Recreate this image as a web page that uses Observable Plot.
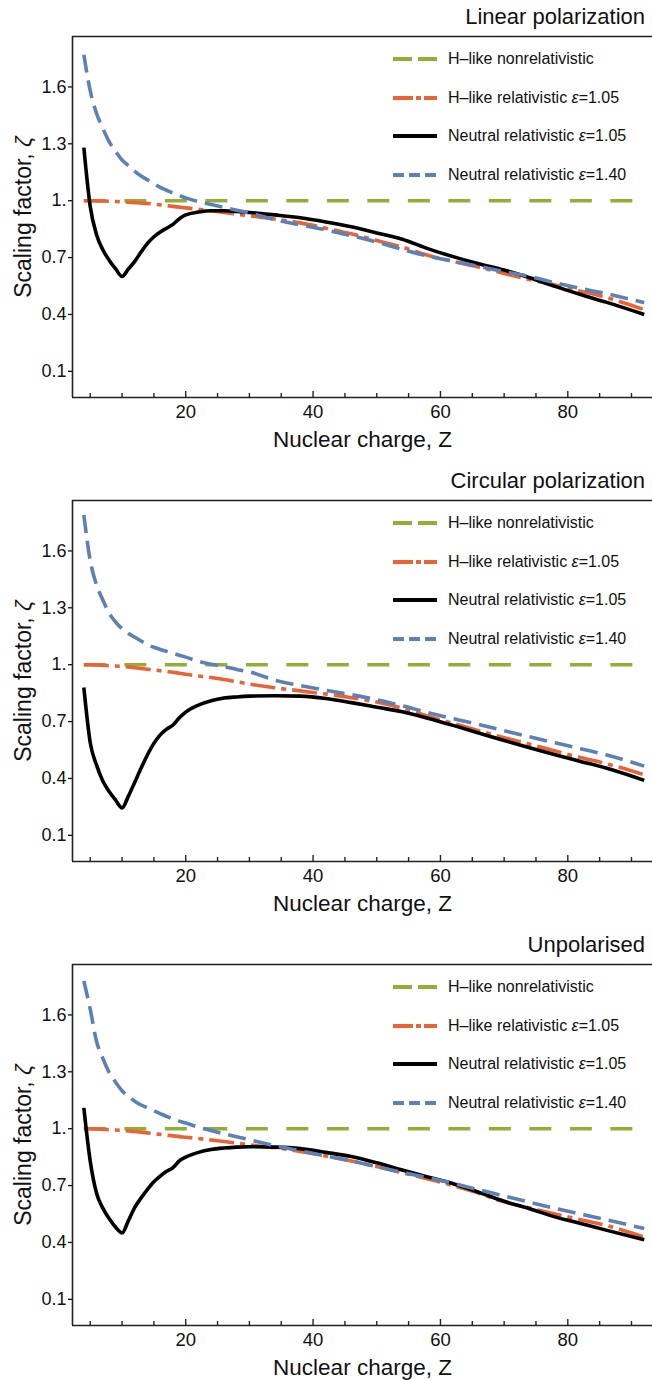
<!DOCTYPE html>
<html><head><meta charset="utf-8">
<script src="https://cdn.jsdelivr.net/npm/d3@7"></script>
<script src="https://cdn.jsdelivr.net/npm/@observablehq/plot@0.6"></script>
<style>
body{margin:0;background:#fff;font-family:"Liberation Sans",Arial,sans-serif;color:#111;overflow:hidden;}
.panel{position:relative;width:652px;height:464px;}
.title{height:34px;line-height:34px;font-size:22px;text-align:right;padding-right:7px;}
.panel svg.plot{display:block;}
.legend{position:absolute;left:393px;top:0;width:259px;height:200px;}
.row{position:absolute;left:0;height:20px;display:flex;align-items:center;white-space:nowrap;font-size:16px;}
.row svg{margin-right:11px;display:block;}
</style></head><body><div id="chart"></div>
<script>
const zGrid = [4,5,6,7,8,9,10,11,12,13,14,15,16,17,18,19,20,22,24,26,28,30,34,38,42,46,50,54,58,62,66,70,74,78,82,86,92];
const hNonrelZ = [4,92];
const hNonrel = [1,1];
const linOrange = [1.0,1.0,0.999,0.998,0.997,0.996,0.994,0.992,0.99,0.988,0.985,0.982,0.978,0.974,0.97,0.966,0.962,0.955,0.947,0.938,0.929,0.92,0.903,0.883,0.855,0.825,0.79,0.755,0.712,0.68,0.65,0.616,0.584,0.555,0.523,0.49,0.425];
const linBlack = [1.28,0.97,0.82,0.74,0.685,0.64,0.60,0.64,0.68,0.73,0.775,0.81,0.835,0.855,0.875,0.905,0.925,0.94,0.947,0.947,0.943,0.938,0.925,0.91,0.888,0.862,0.83,0.797,0.747,0.705,0.668,0.634,0.594,0.548,0.505,0.465,0.40];
const linBlue = [1.77,1.58,1.46,1.38,1.31,1.26,1.215,1.185,1.155,1.13,1.11,1.09,1.07,1.055,1.04,1.027,1.015,0.995,0.98,0.965,0.95,0.935,0.9,0.872,0.846,0.815,0.782,0.743,0.708,0.68,0.654,0.626,0.6,0.567,0.537,0.51,0.462];
const circOrange = [1.0,1.0,0.998,0.997,0.995,0.993,0.99,0.988,0.984,0.98,0.976,0.972,0.968,0.964,0.96,0.955,0.95,0.94,0.932,0.922,0.91,0.898,0.878,0.862,0.845,0.826,0.803,0.77,0.728,0.69,0.652,0.615,0.58,0.545,0.51,0.478,0.42];
const circBlack = [0.88,0.59,0.47,0.385,0.33,0.285,0.245,0.307,0.38,0.455,0.525,0.585,0.63,0.66,0.682,0.72,0.75,0.787,0.81,0.824,0.83,0.834,0.836,0.834,0.822,0.80,0.776,0.752,0.718,0.68,0.64,0.60,0.562,0.525,0.49,0.455,0.39];
const circBlue = [1.79,1.55,1.42,1.34,1.27,1.225,1.19,1.165,1.145,1.125,1.105,1.092,1.08,1.07,1.06,1.05,1.04,1.018,1.002,0.99,0.975,0.962,0.918,0.89,0.865,0.842,0.815,0.783,0.748,0.715,0.685,0.652,0.62,0.588,0.557,0.525,0.465];
const unpOrange = [1.0,1.0,0.998,0.997,0.995,0.993,0.99,0.988,0.985,0.982,0.978,0.974,0.97,0.966,0.962,0.958,0.955,0.948,0.94,0.932,0.924,0.915,0.9,0.88,0.856,0.83,0.80,0.768,0.735,0.70,0.66,0.614,0.582,0.55,0.52,0.49,0.428];
const unpBlack = [1.11,0.83,0.66,0.58,0.525,0.48,0.45,0.515,0.585,0.635,0.68,0.72,0.75,0.775,0.795,0.83,0.85,0.875,0.89,0.898,0.903,0.905,0.903,0.895,0.875,0.853,0.82,0.782,0.745,0.71,0.665,0.617,0.578,0.535,0.50,0.465,0.414];
const unpBlue = [1.78,1.63,1.46,1.37,1.295,1.245,1.2,1.17,1.145,1.125,1.11,1.095,1.08,1.065,1.052,1.04,1.03,1.008,0.99,0.973,0.958,0.942,0.91,0.883,0.856,0.83,0.80,0.77,0.742,0.712,0.678,0.645,0.612,0.58,0.55,0.52,0.473];

const panelTitles = ["Linear polarization","Circular polarization","Unpolarised"];
const seriesNames = ["H\u2013like nonrelativistic","H\u2013like relativistic \u03b5=1.05","Neutral relativistic \u03b5=1.05","Neutral relativistic \u03b5=1.40"];
const seriesColors = ["#8FB032","#EB6235","#000000","#5E81B5"];
const curveDash = ["22,18.5","25,6,5,6",null,"18,8"];
const legendDash = ["19,6","20,3,5,3",null,"11,5"];
const xMajor = [20,40,60,80];
const xMinor = [5,10,15,25,30,35,45,50,55,65,70,75,85,90];
const yTicks = [0.1,0.4,0.7,1.0,1.3,1.6];
const xDomain = [2.22, 93.3];
const yDomain = [-0.038, 1.866];

const panels = [
  [linOrange, linBlack, linBlue],
  [circOrange, circBlack, circBlue],
  [unpOrange, unpBlack, unpBlue]
];

const font = "'Liberation Sans', Arial, sans-serif";
const root = document.getElementById("chart");

function italicGreek(el, text){
  const parts = text.split(/([\u03b5\u03b6])/);
  parts.forEach(p => {
    if (p === "\u03b5" || p === "\u03b6") {
      const i = document.createElement("i"); i.textContent = p; el.appendChild(i);
    } else if (p) el.appendChild(document.createTextNode(p));
  });
}

panels.forEach((ser, k) => {
  const div = document.createElement("div");
  div.className = "panel";
  const t = document.createElement("div");
  t.className = "title"; t.textContent = panelTitles[k];
  div.appendChild(t);

  const [orange, black, blue] = ser;
  const vals = [hNonrel, orange, black, blue];
  const xs = [hNonrelZ, zGrid, zGrid, zGrid];

  const lineMarks = vals.map((v, i) => Plot.line(v, {
    x: xs[i], y: d => d,
    stroke: seriesColors[i], strokeWidth: 3.6,
    strokeDasharray: curveDash[i] || undefined,
    strokeLinecap: "butt", strokeLinejoin: "round",
    curve: "monotone-x"
  }));

  const svg = Plot.plot({
    width: 652, height: 430,
    marginTop: 2, marginLeft: 72, marginRight: 0, marginBottom: 67,
    x: {domain: xDomain},
    y: {domain: yDomain},
    style: {fontFamily: font, fontSize: "18px", color: "#111", background: "transparent"},
    marks: [
      Plot.axisY({ticks: yTicks, tickFormat: d => d === 1 ? "1." : d.toFixed(1), tickSize: 4, tickPadding: 2,
        fontSize: 18, label: "Scaling factor, \u03b6", labelAnchor: "center", labelOffset: 58, labelArrow: "none", strokeWidth: 1.3}),
      Plot.axisX({ticks: xMajor, tickSize: 0, tickPadding: 7, fontSize: 18.5,
        label: "Nuclear charge, Z", labelAnchor: "center", labelOffset: 49, labelArrow: "none"}),
      Plot.ruleX([xDomain[0]], {stroke: "#222", strokeWidth: 1.6}),
      Plot.ruleY([yDomain[1]], {stroke: "#222", strokeWidth: 1.6}),
      Plot.ruleY([yDomain[0]], {stroke: "#222", strokeWidth: 1.6}),
      // inward tick marks on the bottom frame
      Plot.tickX(xMinor, {x: d => d, insetTop: 357, stroke: "#222", strokeWidth: 1.4}),
      Plot.tickX(xMajor, {x: d => d, insetTop: 355, stroke: "#222", strokeWidth: 1.4}),
      ...lineMarks
    ]
  });
  svg.classList.add("plot");
  const s = d3.select(svg);
  s.selectAll('g[aria-label="y-axis label"]').attr("font-size", 23)
    .selectAll("text").each(function(){
      const tt = d3.select(this); tt.text("");
      tt.append("tspan").text("Scaling factor, ");
      tt.append("tspan").attr("font-style", "italic").text("\u03b6");
    });
  s.selectAll('g[aria-label="x-axis label"]').attr("font-size", 22.5);
  div.appendChild(svg);

  const lg = document.createElement("div");
  lg.className = "legend";
  const rowCenters = [59, 97.5, 136, 174.5];
  seriesNames.forEach((name, i) => {
    const row = document.createElement("div");
    row.className = "row";
    row.style.top = (rowCenters[i] - 10) + "px";
    const sw = document.createElementNS("http://www.w3.org/2000/svg", "svg");
    sw.setAttribute("width", 44); sw.setAttribute("height", 8);
    const ln = document.createElementNS("http://www.w3.org/2000/svg", "line");
    ln.setAttribute("x1", 0); ln.setAttribute("x2", 44); ln.setAttribute("y1", 4); ln.setAttribute("y2", 4);
    ln.setAttribute("stroke", seriesColors[i]); ln.setAttribute("stroke-width", 4);
    if (legendDash[i]) ln.setAttribute("stroke-dasharray", legendDash[i]);
    sw.appendChild(ln);
    row.appendChild(sw);
    const sp = document.createElement("span");
    italicGreek(sp, name);
    row.appendChild(sp);
    lg.appendChild(row);
  });
  div.appendChild(lg);
  root.appendChild(div);
});
</script></body></html>
